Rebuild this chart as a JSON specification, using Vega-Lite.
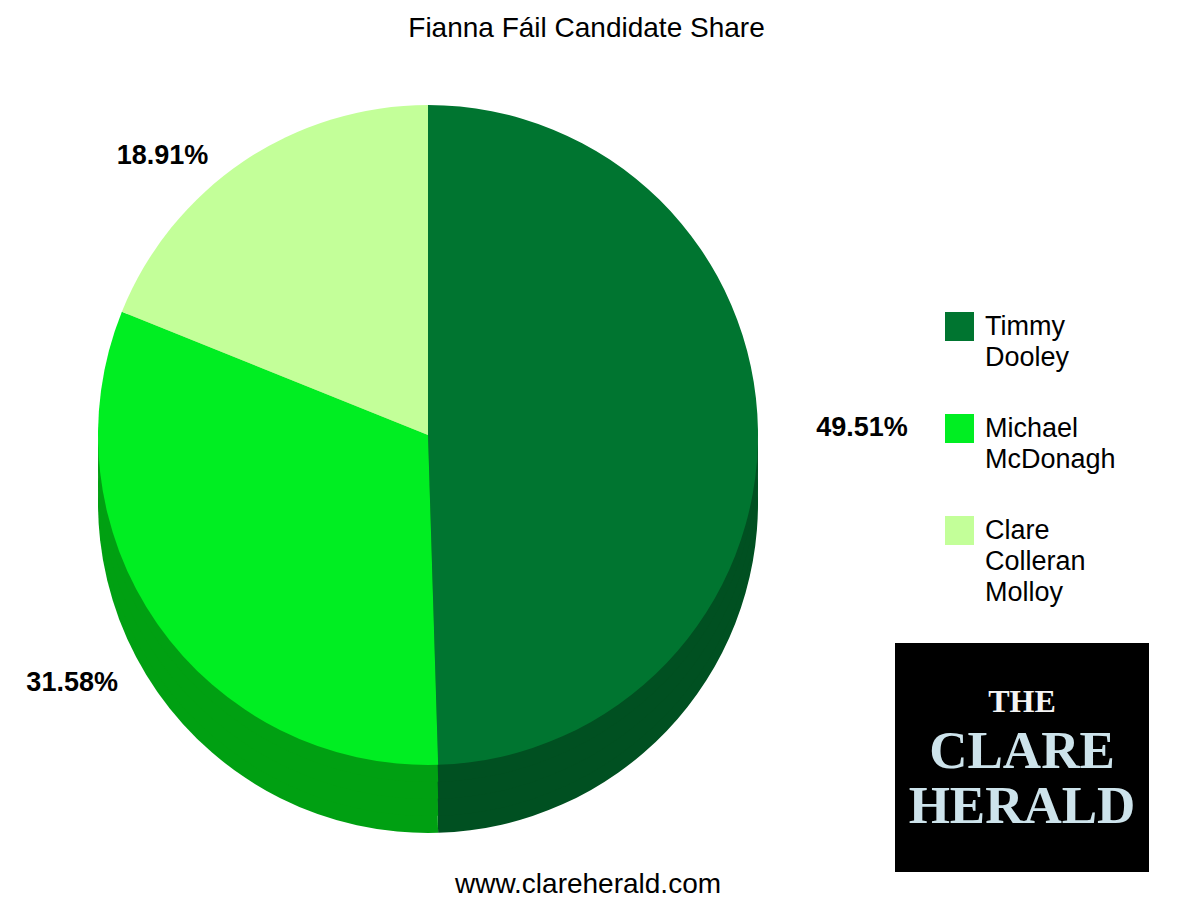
{
  "$schema": "https://vega.github.io/schema/vega-lite/v6.json",
  "padding": {"left": 0, "right": 5, "top": 15, "bottom": 5},
  "background": "#ffffff",
  "title": {
    "text": "Fianna Fáil Candidate Share",
    "font": "Liberation Sans",
    "fontSize": 28,
    "fontWeight": "normal",
    "color": "#000000",
    "anchor": "middle",
    "dx": 12
  },
  "datasets": {
    "share": [
      {"candidate": "Timmy Dooley", "share": 0.4951},
      {"candidate": "Michael McDonagh", "share": 0.3158},
      {"candidate": "Clare Colleran Molloy", "share": 0.1891}
    ],
    "masthead": [
      {"word": "THE"},
      {"word": "CLARE"},
      {"word": "HERALD"}
    ]
  },
  "bounds": "flush",
  "spacing": 39,
  "hconcat": [
    {
      "width": 856,
      "height": 776,
      "data": {"name": "share"},
      "title": {
        "text": "www.clareherald.com",
        "orient": "bottom",
        "anchor": "middle",
        "dx": 160,
        "offset": 38,
        "font": "Liberation Sans",
        "fontSize": 28,
        "fontWeight": "normal",
        "color": "#000000"
      },
      "encoding": {
        "theta": {"field": "share", "type": "quantitative", "stack": true},
        "order": {"field": "share", "sort": "descending"}
      },
      "layer": [
        {
          "mark": {"type": "arc", "outerRadius": 330, "yOffset": 68},
          "encoding": {
            "fill": {"field": "candidate", "type": "nominal", "legend": null,
              "scale": {"domain": ["Clare Colleran Molloy", "Michael McDonagh", "Timmy Dooley"],
                        "range": ["#9fd97c", "#00a012", "#005021"]}}
          }
        },
        {
          "mark": {"type": "arc", "outerRadius": 330, "yOffset": 51},
          "encoding": {
            "fill": {"field": "candidate", "type": "nominal", "legend": null}
          }
        },
        {
          "mark": {"type": "arc", "outerRadius": 330, "yOffset": 34},
          "encoding": {
            "fill": {"field": "candidate", "type": "nominal", "legend": null}
          }
        },
        {
          "mark": {"type": "arc", "outerRadius": 330, "yOffset": 17},
          "encoding": {
            "fill": {"field": "candidate", "type": "nominal", "legend": null}
          }
        },
        {
          "mark": {"type": "arc", "outerRadius": 330},
          "encoding": {
            "color": {
              "field": "candidate",
              "type": "nominal",
              "scale": {"domain": ["Timmy Dooley", "Michael McDonagh", "Clare Colleran Molloy"],
                        "range": ["#007530", "#00ee22", "#c3ff99"]},
              "legend": {
                "orient": "none",
                "legendX": 945,
                "legendY": 265,
                "title": null,
                "symbolType": "square",
                "symbolSize": 841,
                "symbolStrokeWidth": 0,
                "symbolOpacity": 1,
                "labelFont": "Liberation Sans",
                "labelFontSize": 27,
                "labelColor": "#000000",
                "labelOffset": 11,
                "labelLimit": 300,
                "labelBaseline": "top",
                "rowPadding": 43,
                "labelExpr": "split(datum.label, ' ')",
                "encode": {"labels": {"update": {"lineHeight": {"value": 31}, "dy": {"value": -13}}}}
              }
            }
          }
        },
        {
          "mark": {"type": "text", "radius": 434, "font": "Liberation Sans", "fontSize": 27, "fontWeight": "bold", "color": "#000000"},
          "encoding": {
            "text": {
              "condition": {"test": "datum.candidate === 'Clare Colleran Molloy'", "value": ""},
              "field": "share", "type": "quantitative", "format": ".2%"
            }
          }
        },
        {
          "mark": {"type": "text", "radius": 385, "dx": -50, "dy": 40, "font": "Liberation Sans", "fontSize": 27, "fontWeight": "bold", "color": "#000000"},
          "encoding": {
            "text": {
              "condition": {"test": "datum.candidate !== 'Clare Colleran Molloy'", "value": ""},
              "field": "share", "type": "quantitative", "format": ".2%"
            }
          }
        }
      ]
    },
    {
      "spacing": 0,
      "vconcat": [
        {
          "width": 254,
          "height": 596,
          "data": {"values": [{}]},
          "mark": {"type": "point", "opacity": 0}
        },
        {
          "width": 254,
          "height": 229,
          "view": {"fill": "#000000", "stroke": null},
          "data": {"name": "masthead"},
          "mark": {"type": "text", "font": "Liberation Serif", "fontWeight": "bold", "baseline": "alphabetic", "align": "center"},
          "encoding": {
            "y": {"field": "word", "type": "nominal", "axis": null,
                  "scale": {"type": "point", "padding": 0, "domain": ["THE", "CLARE", "HERALD"], "range": [69, 180]}},
            "text": {"field": "word"},
            "size": {
              "condition": [
                {"test": "datum.word === 'THE'", "value": 32},
                {"test": "datum.word === 'CLARE'", "value": 53}
              ],
              "value": 53
            },
            "color": {
              "condition": {"test": "datum.word === 'THE'", "value": "#f4f4f4"},
              "value": "#cde3eb"
            }
          }
        }
      ]
    }
  ],
  "config": {
    "view": {"stroke": null},
    "font": "Liberation Sans"
  }
}
